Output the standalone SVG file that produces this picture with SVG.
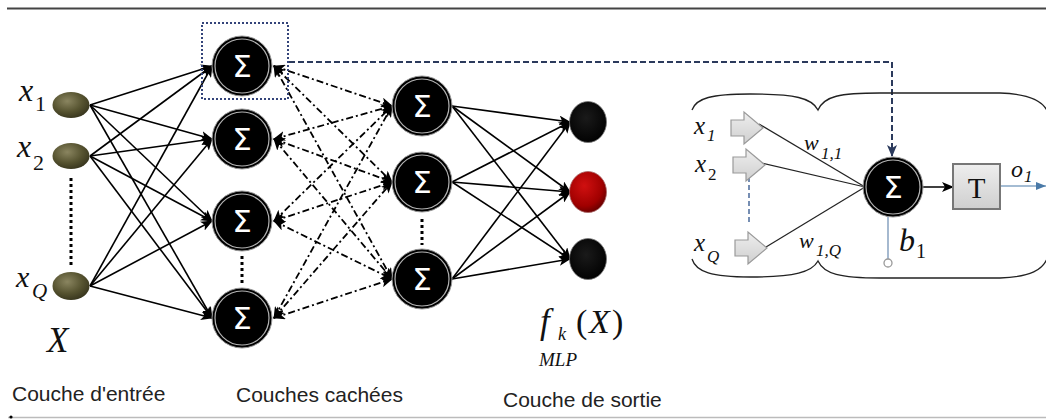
<svg xmlns="http://www.w3.org/2000/svg" width="1046" height="419" viewBox="0 0 1046 419">
<style>
.sig{fill:#fff;font-family:"DejaVu Sans",sans-serif;font-size:31px;text-anchor:middle}
.ser{font-family:"Liberation Serif",serif;font-style:italic;fill:#111}
.up{font-family:"Liberation Serif",serif;fill:#111}
.lab{font-family:"Liberation Sans",Arial,sans-serif;font-size:21px;fill:#222}
.e{stroke:#000;stroke-width:1.6;fill:none;marker-end:url(#ah)}
.dd{stroke:#000;stroke-width:1.8;fill:none;stroke-dasharray:7,3,2,3;marker-end:url(#ah);marker-start:url(#ahs)}
</style>
<defs>
<marker id="ah" markerUnits="userSpaceOnUse" viewBox="0 0 12 10" refX="11" refY="5" markerWidth="12" markerHeight="10" orient="auto"><path d="M0,0 L12,5 L0,10 L3,5 z" fill="#000"/></marker>
<marker id="ahs" markerUnits="userSpaceOnUse" viewBox="0 0 12 10" refX="11" refY="5" markerWidth="12" markerHeight="10" orient="auto-start-reverse"><path d="M0,0 L12,5 L0,10 L3,5 z" fill="#000"/></marker>
<marker id="ahn" markerUnits="userSpaceOnUse" viewBox="0 0 12 10" refX="11" refY="5" markerWidth="12" markerHeight="10" orient="auto"><path d="M0,0 L12,5 L0,10 L3,5 z" fill="#2b3a5c"/></marker>
<marker id="ahb" markerUnits="userSpaceOnUse" viewBox="0 0 10 8" refX="10" refY="4" markerWidth="10" markerHeight="8" orient="auto"><path d="M0,0 L10,4 L0,8 z" fill="#4a7aa8"/></marker>
<radialGradient id="olive" cx="40%" cy="35%" r="70%"><stop offset="0" stop-color="#8a8560"/><stop offset="0.6" stop-color="#55522f"/><stop offset="1" stop-color="#35331c"/></radialGradient>
<radialGradient id="red" cx="40%" cy="35%" r="70%"><stop offset="0" stop-color="#d01010"/><stop offset="0.7" stop-color="#a00000"/><stop offset="1" stop-color="#600000"/></radialGradient>
<radialGradient id="blk" cx="45%" cy="40%" r="65%"><stop offset="0" stop-color="#1a1a1a"/><stop offset="1" stop-color="#000"/></radialGradient>
<linearGradient id="gray" x1="0" y1="0" x2="0" y2="1"><stop offset="0" stop-color="#eeeeee"/><stop offset="1" stop-color="#cfcfcf"/></linearGradient>
<g id="sn"><circle r="30" fill="#000" stroke="#9a9a9a" stroke-width="1"/><circle r="27" fill="none" stroke="#ffffff" stroke-width="1.2" opacity="0.7"/><text class="sig" y="11">Σ</text></g>
<path id="garrow" d="M0,-8 L13,-8 L13,-16 L32,0 L13,16 L13,8 L0,8 z" fill="url(#gray)" stroke="#9a9a9a" stroke-width="1.2"/>
</defs>
<rect width="1046" height="419" fill="#fff"/>
<line x1="7" y1="8.5" x2="1046" y2="8.5" stroke="#444" stroke-width="2"/>
<line x1="8" y1="417.5" x2="1046" y2="417.5" stroke="#bbb" stroke-width="1.5"/>
<circle cx="11" cy="417" r="1.6" fill="#000"/>

<g id="connectors">
<line class="e" x1="90" y1="105" x2="212" y2="66"/>
<line class="e" x1="90" y1="105" x2="212" y2="139"/>
<line class="e" x1="90" y1="105" x2="212" y2="221"/>
<line class="e" x1="90" y1="105" x2="212" y2="318"/>
<line class="e" x1="90" y1="156" x2="212" y2="66"/>
<line class="e" x1="90" y1="156" x2="212" y2="139"/>
<line class="e" x1="90" y1="156" x2="212" y2="221"/>
<line class="e" x1="90" y1="156" x2="212" y2="318"/>
<line class="e" x1="90" y1="286" x2="212" y2="66"/>
<line class="e" x1="90" y1="286" x2="212" y2="139"/>
<line class="e" x1="90" y1="286" x2="212" y2="221"/>
<line class="e" x1="90" y1="286" x2="212" y2="318"/>
<line class="dd" x1="274" y1="66" x2="392" y2="106"/>
<line class="dd" x1="274" y1="66" x2="392" y2="182"/>
<line class="dd" x1="274" y1="66" x2="392" y2="279"/>
<line class="dd" x1="274" y1="139" x2="392" y2="106"/>
<line class="dd" x1="274" y1="139" x2="392" y2="182"/>
<line class="dd" x1="274" y1="139" x2="392" y2="279"/>
<line class="dd" x1="274" y1="221" x2="392" y2="106"/>
<line class="dd" x1="274" y1="221" x2="392" y2="182"/>
<line class="dd" x1="274" y1="221" x2="392" y2="279"/>
<line class="dd" x1="274" y1="318" x2="392" y2="106"/>
<line class="dd" x1="274" y1="318" x2="392" y2="182"/>
<line class="dd" x1="274" y1="318" x2="392" y2="279"/>
<line class="e" x1="452" y1="106" x2="570" y2="122"/>
<line class="e" x1="452" y1="106" x2="570" y2="192"/>
<line class="e" x1="452" y1="106" x2="570" y2="259"/>
<line class="e" x1="452" y1="182" x2="570" y2="122"/>
<line class="e" x1="452" y1="182" x2="570" y2="192"/>
<line class="e" x1="452" y1="182" x2="570" y2="259"/>
<line class="e" x1="452" y1="279" x2="570" y2="122"/>
<line class="e" x1="452" y1="279" x2="570" y2="192"/>
<line class="e" x1="452" y1="279" x2="570" y2="259"/>
<path d="M289,62 L892,62 L892,156" fill="none" stroke="#2b3a5c" stroke-width="2" stroke-dasharray="6,3" marker-end="url(#ahn)"/>
<line x1="759" y1="124" x2="865" y2="187" stroke="#222" stroke-width="1.2"/>
<line x1="761" y1="163" x2="865" y2="187" stroke="#222" stroke-width="1.2"/>
<line x1="766" y1="247" x2="865" y2="187" stroke="#222" stroke-width="1.2"/>
<line x1="749" y1="177" x2="749" y2="222" stroke="#4a6a9a" stroke-width="1.5" stroke-dasharray="5,3"/>
<line class="e" x1="923" y1="187" x2="953" y2="187" style="stroke-width:1.5"/>
<line x1="1000" y1="186" x2="1046" y2="186" stroke="#4a7aa8" stroke-width="1.2" marker-end="url(#ahb)"/>
<line x1="888" y1="217" x2="888" y2="259" stroke="#6a8ab0" stroke-width="1.2"/>
</g>

<g id="inputs">
<g id="in1"><ellipse cx="71" cy="105" rx="18.5" ry="13" fill="url(#olive)"/><text class="ser" x="19" y="101" font-size="32">x</text><text class="up" x="35" y="111" font-size="22">1</text></g>
<g id="in2"><ellipse cx="71" cy="156" rx="18.5" ry="13" fill="url(#olive)"/><text class="ser" x="17" y="157" font-size="32">x</text><text class="up" x="33" y="170" font-size="22">2</text></g>
<line x1="71" y1="178" x2="71" y2="266" stroke="#000" stroke-width="3" stroke-dasharray="3,3"/>
<g id="inQ"><ellipse cx="71" cy="286" rx="18.5" ry="14" fill="url(#olive)"/><text class="ser" x="16" y="287" font-size="30">x</text><text class="ser" x="32" y="298" font-size="21">Q</text></g>
<text class="ser" x="47" y="352" font-size="35">X</text>
</g>

<g id="hidden1">
<rect x="202" y="23" width="86" height="76" fill="none" stroke="#34447a" stroke-width="2" stroke-dasharray="2,2"/>
<use href="#sn" x="242" y="66"/>
<use href="#sn" x="242" y="139"/>
<use href="#sn" x="242" y="221"/>
<line x1="242" y1="256" x2="242" y2="283" stroke="#000" stroke-width="3" stroke-dasharray="3,3"/>
<use href="#sn" x="242" y="318"/>
</g>

<g id="hidden2">
<use href="#sn" x="422" y="106"/>
<use href="#sn" x="422" y="182"/>
<line x1="422" y1="219" x2="422" y2="245" stroke="#000" stroke-width="3" stroke-dasharray="3,3"/>
<use href="#sn" x="422" y="279"/>
</g>

<g id="outputs">
<ellipse cx="588" cy="122" rx="18.5" ry="20.5" fill="url(#blk)" stroke="#777" stroke-width="0.8"/>
<ellipse cx="588" cy="192" rx="18.5" ry="20.5" fill="url(#red)" stroke="#a66" stroke-width="0.8"/>
<ellipse cx="588" cy="259" rx="18.5" ry="20.5" fill="url(#blk)" stroke="#777" stroke-width="0.8"/>
<text class="ser" x="540" y="333" font-size="35">f</text>
<text class="ser" x="558" y="340" font-size="18">k</text>
<text class="up" x="576" y="333" font-size="34">(</text>
<text class="ser" x="589" y="333" font-size="34">X</text>
<text class="up" x="612" y="333" font-size="34">)</text>
<text class="ser" x="539" y="366" font-size="19">MLP</text>
</g>

<g id="neuron-detail">
<path d="M692,110 C696,98 712,94 750,94 C795,94 812,98 818,110 C824,96 840,93 880,93 L1000,93 C1030,94 1044,101 1048,113" fill="none" stroke="#222" stroke-width="1.3"/>
<path d="M692,259 C696,272 712,277 750,277 C795,277 812,272 818,261 C824,274 840,278 880,278 L1000,278 C1030,277 1044,270 1048,256" fill="none" stroke="#222" stroke-width="1.3"/>
<use href="#garrow" x="731" y="128"/>
<use href="#garrow" x="733" y="165"/>
<use href="#garrow" x="735" y="248"/>
<text class="ser" x="694" y="134" font-size="25">x</text><text class="ser" x="707" y="141" font-size="17">1</text>
<text class="ser" x="695" y="172" font-size="25">x</text><text class="up" x="708" y="180" font-size="17">2</text>
<text class="ser" x="694" y="251" font-size="25">x</text><text class="ser" x="707" y="262" font-size="17">Q</text>
<text class="ser" x="804" y="150" font-size="22">w</text><text class="ser" x="821" y="159" font-size="17">1,1</text>
<text class="ser" x="799" y="248" font-size="22">w</text><text class="ser" x="816" y="256" font-size="17">1,Q</text>
<use href="#sn" x="893" y="187"/>
<circle cx="888" cy="263" r="4" fill="#fff" stroke="#999" stroke-width="1.3"/>
<text class="ser" x="899" y="251" font-size="32">b</text><text class="up" x="916" y="258" font-size="20">1</text>
<rect x="953" y="164" width="47" height="45" fill="url(#gray)" stroke="#777" stroke-width="2"/>
<text class="up" x="976.5" y="198" font-size="29" text-anchor="middle">T</text>
<text class="ser" x="1011" y="177" font-size="24">o</text><text class="ser" x="1024" y="182" font-size="17">1</text>
</g>

<g id="captions">
<text class="lab" x="12" y="401">Couche d'entrée</text>
<text class="lab" x="236" y="402" font-size="21.5">Couches cachées</text>
<text class="lab" x="503" y="407">Couche de sortie</text>
</g>
</svg>
